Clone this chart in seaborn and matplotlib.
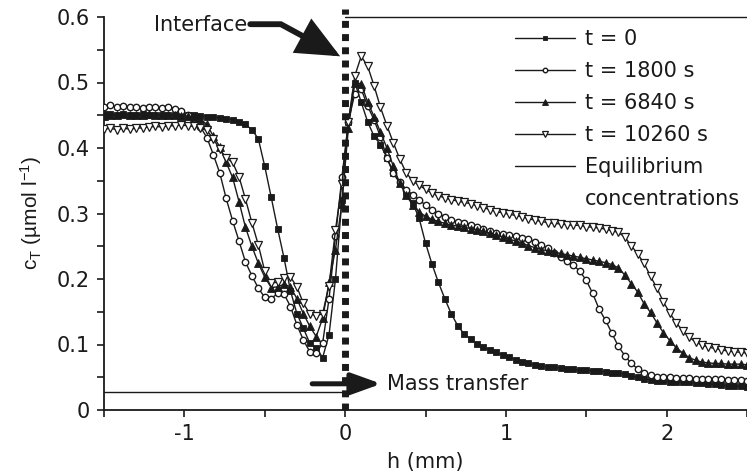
import numpy as np
import pandas as pd
import matplotlib
matplotlib.use("Agg")
import matplotlib.pyplot as plt
import seaborn as sns
from matplotlib.ticker import MultipleLocator, FuncFormatter
from matplotlib.lines import Line2D
from matplotlib.patches import FancyArrowPatch
from matplotlib.path import Path

# distance from the interface (mm), sampling grid of the profiles
h_mm = np.round(np.linspace(-1.5, 2.5, 101), 2)

# total concentration profiles c_T (umol/l)
c_t0 = [0.452, 0.452, 0.451, 0.452, 0.451, 0.451, 0.452, 0.451, 0.451, 0.451, 0.450, 0.451, 0.450,
        0.450, 0.450, 0.449, 0.448, 0.447, 0.446, 0.445, 0.443, 0.440, 0.436, 0.428, 0.414, 0.372,
        0.325, 0.277, 0.232, 0.182, 0.147, 0.125, 0.102, 0.095, 0.080, 0.115, 0.200, 0.320, 0.440,
        0.500, 0.470, 0.440, 0.418, 0.405, 0.385, 0.362, 0.346, 0.331, 0.316, 0.293, 0.255, 0.223,
        0.195, 0.170, 0.147, 0.129, 0.116, 0.108, 0.101, 0.096, 0.092, 0.088, 0.084, 0.081, 0.077,
        0.074, 0.071, 0.069, 0.067, 0.066, 0.065, 0.064, 0.063, 0.062, 0.061, 0.061, 0.060, 0.059,
        0.058, 0.057, 0.056, 0.055, 0.052, 0.050, 0.048, 0.046, 0.045, 0.044, 0.043, 0.043, 0.042,
        0.042, 0.041, 0.041, 0.040, 0.039, 0.038, 0.037, 0.036, 0.036, 0.035]

c_t1800 = [0.462, 0.465, 0.463, 0.464, 0.462, 0.463, 0.461, 0.463, 0.462, 0.461, 0.463, 0.460, 0.457,
           0.450, 0.444, 0.432, 0.416, 0.390, 0.362, 0.323, 0.289, 0.258, 0.226, 0.205, 0.186, 0.172,
           0.170, 0.178, 0.177, 0.158, 0.130, 0.107, 0.089, 0.087, 0.102, 0.170, 0.265, 0.355, 0.440,
           0.483, 0.490, 0.464, 0.443, 0.417, 0.385, 0.362, 0.348, 0.336, 0.329, 0.321, 0.313, 0.305,
           0.300, 0.295, 0.290, 0.287, 0.285, 0.283, 0.279, 0.276, 0.273, 0.270, 0.268, 0.267, 0.265,
           0.263, 0.261, 0.257, 0.252, 0.247, 0.240, 0.233, 0.227, 0.221, 0.212, 0.198, 0.178, 0.154,
           0.137, 0.117, 0.097, 0.083, 0.071, 0.063, 0.057, 0.053, 0.051, 0.050, 0.050, 0.049, 0.049,
           0.049, 0.048, 0.048, 0.047, 0.047, 0.047, 0.046, 0.046, 0.046, 0.045]

c_t6840 = [0.449, 0.451, 0.450, 0.452, 0.450, 0.451, 0.450, 0.452, 0.451, 0.450, 0.451, 0.450, 0.449,
           0.449, 0.447, 0.444, 0.436, 0.418, 0.402, 0.378, 0.355, 0.318, 0.279, 0.250, 0.224, 0.203,
           0.187, 0.188, 0.192, 0.188, 0.170, 0.147, 0.128, 0.112, 0.140, 0.195, 0.245, 0.315, 0.430,
           0.500, 0.498, 0.470, 0.448, 0.424, 0.400, 0.372, 0.346, 0.328, 0.313, 0.302, 0.296, 0.291,
           0.288, 0.285, 0.282, 0.281, 0.279, 0.277, 0.275, 0.273, 0.270, 0.267, 0.264, 0.261, 0.258,
           0.255, 0.251, 0.248, 0.245, 0.243, 0.241, 0.239, 0.237, 0.235, 0.233, 0.231, 0.229, 0.227,
           0.225, 0.222, 0.217, 0.206, 0.193, 0.180, 0.162, 0.149, 0.133, 0.118, 0.106, 0.095, 0.087,
           0.080, 0.076, 0.073, 0.072, 0.071, 0.071, 0.070, 0.070, 0.070, 0.069]

c_t10260 = [0.429, 0.430, 0.428, 0.430, 0.429, 0.430, 0.431, 0.432, 0.433, 0.432, 0.434, 0.434, 0.435,
            0.434, 0.433, 0.430, 0.427, 0.414, 0.398, 0.385, 0.378, 0.356, 0.322, 0.286, 0.252, 0.212,
            0.194, 0.195, 0.201, 0.203, 0.188, 0.163, 0.147, 0.144, 0.147, 0.190, 0.275, 0.345, 0.440,
            0.510, 0.540, 0.525, 0.495, 0.462, 0.434, 0.408, 0.383, 0.362, 0.350, 0.343, 0.337, 0.331,
            0.327, 0.324, 0.321, 0.319, 0.317, 0.315, 0.312, 0.309, 0.306, 0.303, 0.301, 0.299, 0.297,
            0.295, 0.292, 0.290, 0.288, 0.286, 0.285, 0.284, 0.283, 0.282, 0.282, 0.280, 0.279, 0.278,
            0.276, 0.274, 0.271, 0.264, 0.251, 0.238, 0.224, 0.204, 0.186, 0.165, 0.148, 0.133, 0.121,
            0.111, 0.104, 0.099, 0.096, 0.094, 0.092, 0.090, 0.089, 0.088, 0.087]

series_labels = ["t = 0", "t = 1800 s", "t = 6840 s", "t = 10260 s"]

# equilibrium concentrations on either side of the interface
eq_left = 0.027
eq_right = 0.6

sns.set_theme(style="ticks")
plt.rcParams["font.family"] = ["DejaVu Sans"]
plt.rcParams["text.color"] = "k"
plt.rcParams["axes.labelcolor"] = "k"
plt.rcParams["mathtext.fontset"] = "custom"
plt.rcParams["mathtext.rm"] = "Liberation Sans"
plt.rcParams["mathtext.it"] = "Liberation Sans:italic"
plt.rcParams["axes.unicode_minus"] = False

fig = plt.figure(figsize=(7.47, 4.75), dpi=100)
ax = fig.add_axes([104 / 747, 65 / 475, 643 / 747, 393 / 475])

styles = [
    dict(marker="s", markersize=4.2, markerfacecolor="k", markeredgecolor="k", markeredgewidth=0.6),
    dict(marker="o", markersize=4.6, markerfacecolor="white", markeredgecolor="k", markeredgewidth=1.0),
    dict(marker="^", markersize=5.6, markerfacecolor="k", markeredgecolor="k", markeredgewidth=0.6),
    dict(marker="v", markersize=5.6, markerfacecolor="white", markeredgecolor="k", markeredgewidth=0.9),
]
profiles = [c_t0, c_t1800, c_t6840, c_t10260]

for vals, lab, st in zip(profiles, series_labels, styles):
    df = pd.DataFrame({"h": h_mm, "c": vals})
    sns.lineplot(data=df, x="h", y="c", ax=ax, color="k", linewidth=1.0,
                 label=lab, zorder=3, **st)

# equilibrium concentrations
ax.plot([-1.5, 0.0], [eq_left, eq_left], color="k", lw=1.0, zorder=2,
        label="Equilibrium")
ax.plot([0.0, 2.5], [eq_right, eq_right], color="k", lw=1.0, zorder=2, clip_on=False)

# interface
ax.plot([0, 0], [0, 0.612], color="k", lw=5, dashes=(1, 0.9),
        dash_capstyle="butt", clip_on=False, zorder=6)

# "Interface" pointer
ax.text(-0.61, 0.588, "Interface", fontsize=15, ha="right", va="center")
verts = [(-0.59, 0.589), (-0.40, 0.589), (-0.031, 0.540)]
arrow = FancyArrowPatch(path=Path(verts, [Path.MOVETO, Path.LINETO, Path.LINETO]),
                        arrowstyle="-|>,head_length=1.0,head_width=0.45",
                        mutation_scale=24, lw=4.2, color="k", joinstyle="miter",
                        clip_on=False, zorder=7)
ax.add_patch(arrow)

# mass transfer direction
ax.annotate("", xy=(0.225, 0.040), xytext=(-0.205, 0.040),
            arrowprops=dict(arrowstyle="-|>,head_length=1.0,head_width=0.36",
                            mutation_scale=18, lw=3.6, color="k",
                            shrinkA=0, shrinkB=0), zorder=7)
ax.text(0.26, 0.040, "Mass transfer", fontsize=15, ha="left", va="center")

ax.set_xlim(-1.5, 2.5)
ax.set_ylim(0, 0.6)
ax.xaxis.set_major_locator(MultipleLocator(1))
ax.xaxis.set_minor_locator(MultipleLocator(0.5))
ax.yaxis.set_major_locator(MultipleLocator(0.1))
ax.yaxis.set_minor_locator(MultipleLocator(0.05))
fmt = FuncFormatter(lambda v, p: f"{v:g}")
ax.xaxis.set_major_formatter(fmt)
ax.yaxis.set_major_formatter(fmt)
ax.tick_params(which="both", direction="out", length=5, width=1.2, color="k")
ax.tick_params(which="major", labelsize=15, pad=5, labelcolor="k")

for side in ("top", "right"):
    ax.spines[side].set_visible(False)
for side in ("left", "bottom"):
    ax.spines[side].set_linewidth(1.3)
    ax.spines[side].set_color("k")

ax.set_xlabel("h (mm)", fontsize=15, labelpad=6)
ax.set_ylabel(r"c$_\mathrm{T}$ (µmol l$^{-1}$)", fontsize=15, labelpad=9,
              family="Liberation Sans")

handles, labels = ax.get_legend_handles_labels()
handles.append(Line2D([], [], color="none"))
labels.append("concentrations")
ax.legend(handles, labels, loc="upper left", bbox_to_anchor=(515 / 747, 446 / 475),
          bbox_transform=fig.transFigure, frameon=False, fontsize=15,
          handlelength=2.9, handletextpad=0.45, labelspacing=0.58,
          borderpad=0, borderaxespad=0, markerscale=0.7)

fig.savefig("out.png", dpi=100)
